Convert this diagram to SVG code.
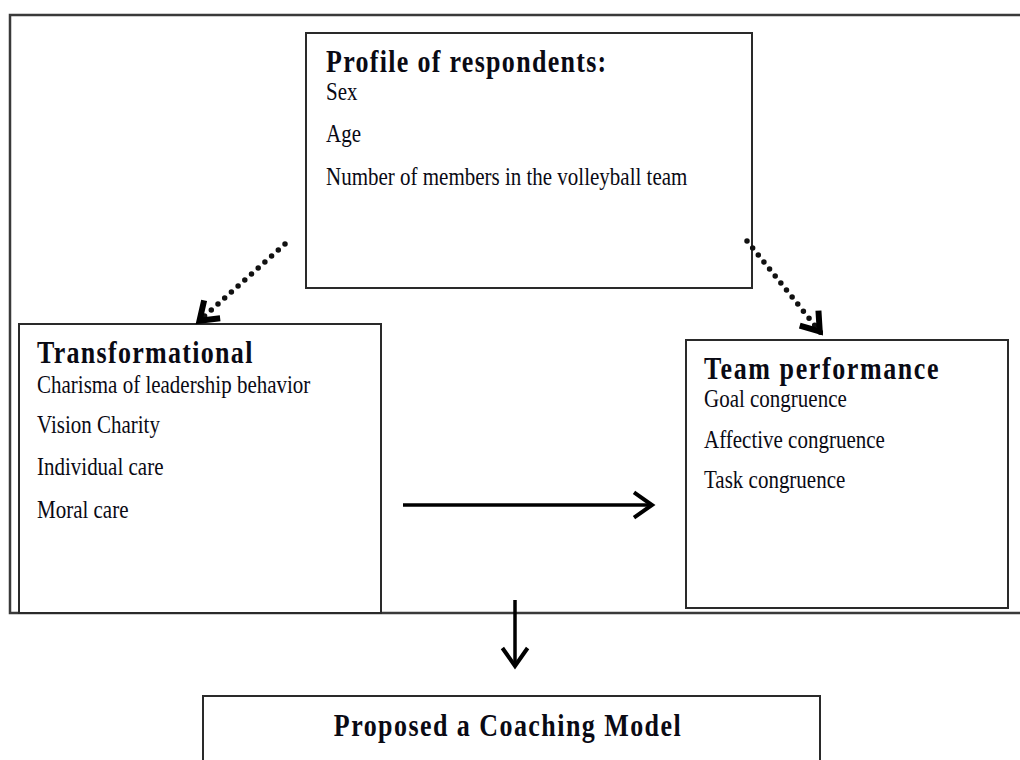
<svg xmlns="http://www.w3.org/2000/svg" width="1020" height="760" viewBox="0 0 1020 760">
<style>
.box{fill:#fff;stroke:#2a2a2a;stroke-width:2}
.frame{fill:none;stroke:#3a3a3a;stroke-width:2.5}
.h{font-family:"Liberation Serif","Times New Roman",serif;font-weight:bold;font-size:26px;letter-spacing:1.3px;fill:#0a0a14}
.t{font-family:"Liberation Serif","Times New Roman",serif;font-size:21px;fill:#0a0a14}
.dot{fill:none;stroke:#111;stroke-width:5.5;stroke-linecap:round;stroke-dasharray:0 9}
.solid{fill:none;stroke:#000;stroke-width:3.5}
</style>
<defs>
<marker id="head" markerUnits="userSpaceOnUse" viewBox="-25 -25 30 50" refX="0" refY="0" markerWidth="30" markerHeight="50" orient="auto" overflow="visible">
<path d="M-18,-12.6 L0,0 L-18,12.6" fill="none" stroke="#000" stroke-width="4"/>
</marker>
<marker id="dhead" markerUnits="userSpaceOnUse" viewBox="-25 -25 30 50" refX="0" refY="0" markerWidth="30" markerHeight="50" orient="auto" overflow="visible">
<path d="M-19,-12 L-2,0 L-19,12" fill="none" stroke="#000" stroke-width="6" stroke-linejoin="miter"/>
</marker>
</defs>
<g id="frame">
<path class="frame" d="M1025,15 H10 V613 H1025"/>
</g>
<g id="profile">
<rect class="box" x="306" y="33" width="446" height="255"/>
<text class="h" transform="translate(326 72) scale(1 1.18)">Profile of respondents:</text>
<text class="t" transform="translate(326 100) scale(1 1.18)">Sex</text>
<text class="t" transform="translate(326 142) scale(1 1.18)">Age</text>
<text class="t" transform="translate(326 185) scale(1 1.18)">Number of members in the volleyball team</text>
</g>
<g id="transformational">
<rect class="box" x="19" y="324" width="362" height="289"/>
<text class="h" transform="translate(37 363) scale(1 1.18)">Transformational</text>
<text class="t" transform="translate(37 393) scale(1 1.18)">Charisma of leadership behavior</text>
<text class="t" transform="translate(37 433) scale(1 1.18)">Vision Charity</text>
<text class="t" transform="translate(37 475) scale(1 1.18)">Individual care</text>
<text class="t" transform="translate(37 518) scale(1 1.18)">Moral care</text>
</g>
<g id="team">
<rect class="box" x="686" y="340" width="322" height="268"/>
<text class="h" style="letter-spacing:1.6px" transform="translate(704 379) scale(1 1.18)">Team performance</text>
<text class="t" transform="translate(704 407) scale(1 1.18)">Goal congruence</text>
<text class="t" transform="translate(704 448) scale(1 1.18)">Affective congruence</text>
<text class="t" transform="translate(704 488) scale(1 1.18)">Task congruence</text>
</g>
<g id="coaching">
<rect class="box" x="203" y="696" width="617" height="80"/>
<text class="h" style="letter-spacing:1.45px" text-anchor="middle" transform="translate(508 736) scale(1 1.18)">Proposed a Coaching Model</text>
</g>
<g id="connectors">
<path class="dot" d="M285,244 L198,322" marker-end="url(#dhead)"/>
<path class="dot" d="M747,241 L821,333" marker-end="url(#dhead)"/>
<path class="solid" d="M403,505 L652,505" marker-end="url(#head)"/>
<path class="solid" d="M515,600 L515,666" marker-end="url(#head)"/>
</g>
</svg>
